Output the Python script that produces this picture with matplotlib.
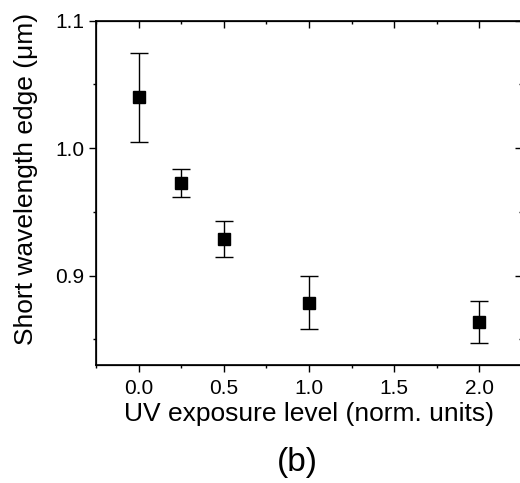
import numpy as np
import matplotlib
matplotlib.use("Agg")
import matplotlib.pyplot as plt
from matplotlib.ticker import MultipleLocator, FormatStrFormatter

# data
uv_level = [0.0, 0.25, 0.5, 1.0, 2.0]
edge_um = [1.040, 0.973, 0.929, 0.879, 0.864]
edge_err = [0.035, 0.011, 0.014, 0.0205, 0.0165]

plt.rcParams["font.family"] = ["Liberation Sans", "DejaVu Sans"]

fig = plt.figure(figsize=(5.2, 4.83), dpi=100)
ax = fig.add_axes([0.1846, 0.2443, 0.819, 0.7129])

ax.errorbar(uv_level, edge_um, yerr=edge_err, fmt="s", color="black",
            markersize=9, elinewidth=1, capsize=6.5, capthick=1, ecolor="black")

ax.set_xlim(-0.25, 2.25)
ax.set_ylim(0.83, 1.1)
ax.xaxis.set_major_locator(MultipleLocator(0.5))
ax.xaxis.set_minor_locator(MultipleLocator(0.25))
ax.yaxis.set_major_locator(MultipleLocator(0.1))
ax.yaxis.set_minor_locator(MultipleLocator(0.05))
ax.xaxis.set_major_formatter(FormatStrFormatter("%.1f"))
ax.yaxis.set_major_formatter(FormatStrFormatter("%.1f"))

ax.tick_params(which="major", direction="out", length=5, width=1, labelsize=15)
ax.tick_params(axis="x", which="major", pad=5)
ax.tick_params(which="minor", direction="out", length=2.5, width=1)

for s in ax.spines.values():
    s.set_linewidth(1.2)

# mirrored ticks on top/right point inward
top = ax.twiny()
top.set_xlim(ax.get_xlim())
top.xaxis.set_major_locator(MultipleLocator(0.5))
top.xaxis.set_minor_locator(MultipleLocator(0.25))
top.tick_params(which="major", direction="in", length=5, width=1, labeltop=False)
top.tick_params(which="minor", direction="in", length=2.5, width=1)

right = ax.twinx()
right.set_ylim(ax.get_ylim())
right.yaxis.set_major_locator(MultipleLocator(0.1))
right.yaxis.set_minor_locator(MultipleLocator(0.05))
right.tick_params(which="major", direction="in", length=5, width=1, labelright=False)
right.tick_params(which="minor", direction="in", length=2.5, width=1)

ax.set_xlabel("UV exposure level (norm. units)", fontsize=19, labelpad=3)
ax.set_ylabel("Short wavelength edge (\u03bcm)", fontsize=19)
ax.yaxis.set_label_coords(-0.135, 0.54)

fig.text(297 / 520, 1 - 463 / 483, "(b)", fontsize=24, ha="center", va="center")

fig.savefig("out.png", dpi=100)
